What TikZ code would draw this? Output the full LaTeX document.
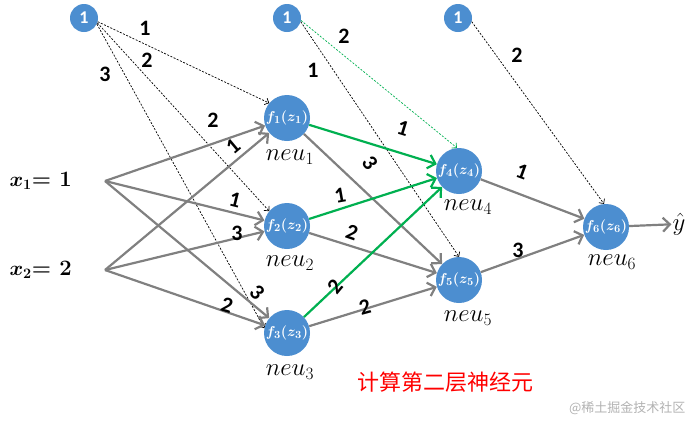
\documentclass[tikz,border=0pt]{standalone}
\usepackage{fontspec}
\usepackage{bm}
\setsansfont{Carlito}
\newfontfamily\cjk{Noto Sans CJK SC}
\usetikzlibrary{arrows.meta}
\definecolor{neublue}{RGB}{76,142,208}
\definecolor{wgray}{RGB}{128,128,128}
\definecolor{wgreen}{RGB}{0,176,80}
\begin{document}
\begin{tikzpicture}[x=1pt,y=-1pt,
        neu/.style={circle,fill=neublue,minimum size=46pt,inner sep=0pt,text=white,font=\fontsize{15}{15}\selectfont},
        bias/.style={circle,fill=neublue,minimum size=28pt,inner sep=0pt,text=white,font=\sffamily\bfseries\fontsize{18}{18}\selectfont},
        nlab/.style={font=\fontsize{23}{23}\selectfont},
        wlab/.style={font=\sffamily\bfseries\fontsize{22}{22}\selectfont},
        gw/.style={draw=wgray,line width=2.2pt,-{Straight Barb[length=7pt,width=14pt]}},
        gr/.style={draw=wgreen,line width=2.2pt,-{Straight Barb[length=7pt,width=14pt]}},
        bl/.style={dash pattern=on 2pt off 1.5pt,line width=0.7pt,-{Straight Barb[length=3.5pt,width=7pt]}}]
        \useasboundingbox (0,0) rectangle (692,421);
        %% Bias units
        \node[bias] (b1) at (84,18) {1};
        \node[bias] (b2) at (287,18) {1};
        \node[bias] (b3) at (458,18) {1};
        %% Inputs
        \node[anchor=west,font=\fontsize{22}{22}\selectfont] (x1) at (6,181) {$\bm{x_1}$\textbf{= 1}};
        \node[anchor=west,font=\fontsize{22}{22}\selectfont] (x2) at (6,270) {$\bm{x_2}$\textbf{= 2}};
        \coordinate (x1p) at (105,181);
        \coordinate (x2p) at (105,270);
        %% Neurons
        \node[neu] (n1) at (287,118) {$\bm{f_1(z_1)}$};
        \node[neu] (n2) at (287,226) {$\bm{f_2(z_2)}$};
        \node[neu] (n3) at (287,333) {$\bm{f_3(z_3)}$};
        \node[neu] (n4) at (459,171) {$\bm{f_4(z_4)}$};
        \node[neu] (n5) at (459,280) {$\bm{f_5(z_5)}$};
        \node[neu] (n6) at (606,227) {$\bm{f_6(z_6)}$};
        \node[nlab] (l1) at (290,157) {$neu_1$};
        \node[nlab] (l2) at (290,263) {$neu_2$};
        \node[nlab] (l3) at (290,372) {$neu_3$};
        \node[nlab] (l4) at (468,207) {$neu_4$};
        \node[nlab] (l5) at (468,318) {$neu_5$};
        \node[nlab] (l6) at (612,262) {$neu_6$};
        \node[font=\fontsize{24}{24}\selectfont,inner sep=1pt] (yh) at (679,224) {$\hat{y}$};
        %% Bias connections
        \draw[bl] (b1.-15) -- (n1.140);
        \draw[bl] (b1.-20) -- (n2.140);
        \draw[bl] (b1.-25) -- (n3.168);
        \draw[bl] (b2.-15) -- (n5.90);
        \draw[bl,wgreen] (b2.-10) -- (n4.95);
        \draw[bl] (b3.-15) -- (n6.95);
        %% Input layer
        \draw[gw] (x1p) -- (n1);
        \draw[gw] (x1p) -- (n2);
        \draw[gw] (x1p) -- (n3);
        \draw[gw] (x2p) -- (n1);
        \draw[gw] (x2p) -- (n2);
        \draw[gw] (x2p) -- (n3);
        %% Hidden layer
        \draw[gr] (n1) -- (n4);
        \draw[gw] (n1) -- (n5);
        \draw[gr] (n2) -- (n4);
        \draw[gw] (n2) -- (n5);
        \draw[gr] (n3) -- (n4);
        \draw[gw] (n3) -- (n5);
        \draw[gw] (n4) -- (n6);
        \draw[gw] (n5) -- (n6);
        \draw[gw] (n6) -- (yh);
        %% Weights
        \node[wlab] (w01) at (145,28) {1};
        \node[wlab] (w02) at (147,60) {2};
        \node[wlab] (w03) at (105,74) {3};
        \node[wlab] (w04) at (344,36) {2};
        \node[wlab] (w05) at (313,70) {1};
        \node[wlab] (w06) at (517,55) {2};
        \node[wlab] (w11) at (213,120) {2};
        \node[wlab,rotate=40] (w21) at (233,146) {1};
        \node[wlab,rotate=-14] (w12) at (235,200) {1};
        \node[wlab] (w22) at (237,233) {3};
        \node[wlab,rotate=-45] (w13) at (257,292) {3};
        \node[wlab,rotate=-17] (w23) at (227,305) {2};
        \node[wlab,rotate=-17] (w14) at (403,128) {1};
        \node[wlab,rotate=-55] (w15) at (370,163) {3};
        \node[wlab,rotate=10] (w24) at (340,195) {1};
        \node[wlab,rotate=-19] (w25) at (352,232) {2};
        \node[wlab,rotate=50] (w34) at (335,287) {2};
        \node[wlab,rotate=15] (w35) at (365,307) {2};
        \node[wlab,rotate=-20] (w46) at (522,172) {1};
        \node[wlab] (w56) at (518,250) {3};
        %% Caption
        \node[text=red,font=\cjk\fontsize{22}{22}\selectfont] (cap) at (445,382) {计算第二层神经元};
        \node[text=black!30,font=\cjk\fontsize{13}{13}\selectfont,anchor=east] (wm) at (689,408) {@稀土掘金技术社区};
\end{tikzpicture}
\end{document}
